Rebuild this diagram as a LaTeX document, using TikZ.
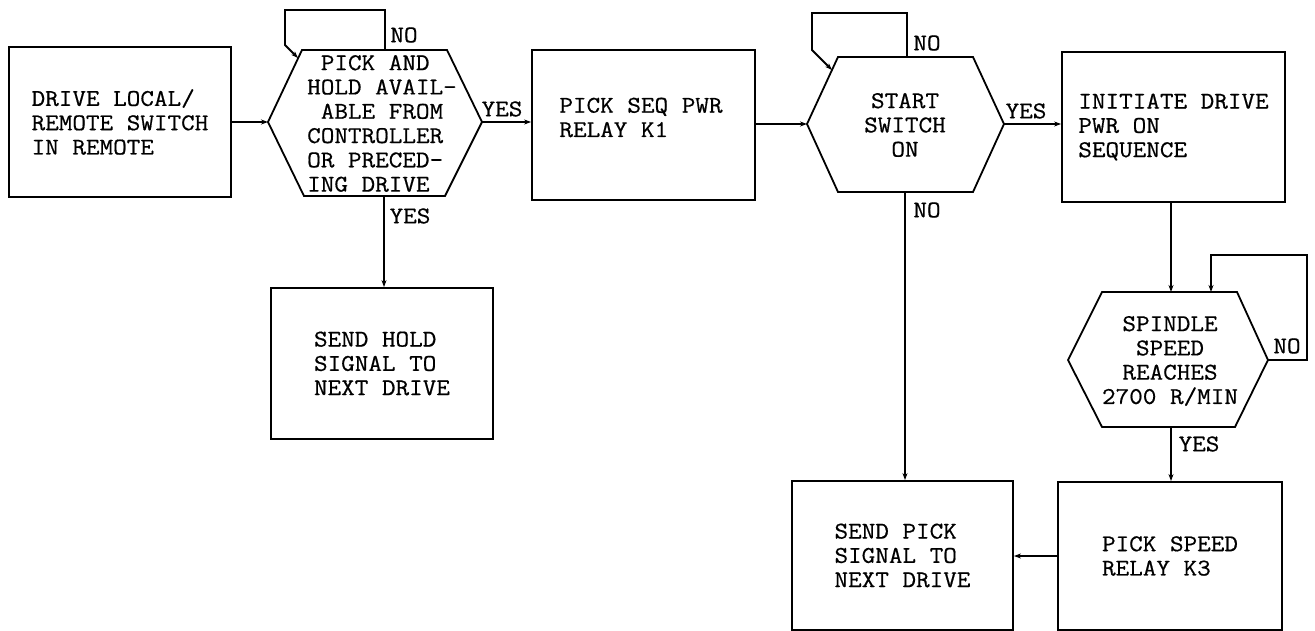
\documentclass[tikz,border=0pt]{standalone}
\usepackage{fontspec}
\newfontfamily\twfont[FakeStretch=1.1,FakeBold=0.6]{Latin Modern Mono}
\usetikzlibrary{arrows.meta}
\begin{document}
\begin{tikzpicture}[x=1pt,y=-1pt,
  every node/.style={font=\twfont\fontsize{24}{24.3}\selectfont, inner sep=0pt},
  box/.style={draw, line width=1.8pt, align=left, minimum width=222pt, minimum height=150pt},
  txt/.style={align=left},
  ctxt/.style={align=center},
  ln/.style={line width=1.8pt, line join=miter},
  arr/.style={line width=1.8pt, -{Stealth[length=7pt,width=5pt]}}]
\useasboundingbox (0,0) rectangle (1315,631);

% boxes
\node[box] (A) at (120,122) {DRIVE LOCAL/\\REMOTE SWITCH\\IN REMOTE};
\node[box, minimum width=223pt] (B) at (643.5,125) {};
\node[txt] (Bt) at (641,117.5) {PICK SEQ PWR\\RELAY K1};
\node[box, minimum height=151pt] (C) at (382,363.5) {SEND HOLD\\SIGNAL TO\\NEXT DRIVE};
\node[box, minimum width=221pt, minimum height=149pt] (D) at (902.5,555.5) {SEND PICK\\SIGNAL TO\\NEXT DRIVE};
\node[box, minimum width=223pt] (E) at (1173.5,127) {INITIATE DRIVE\\PWR ON\\SEQUENCE};
\node[box, minimum width=224pt, minimum height=148pt] (F) at (1170,556) {PICK SPEED\\RELAY K3};

% hexagon 1
\coordinate (h1L) at (268,122);
\coordinate (h1TL) at (302,50);
\coordinate (h1TR) at (447,50);
\coordinate (h1R) at (482,122);
\coordinate (h1BR) at (445,196);
\coordinate (h1BL) at (304,196);
\coordinate (h1T) at (385,50);
\coordinate (h1B) at (384,196);
\coordinate (h1e) at (298,58);
\draw[ln] (h1L) -- (h1TL) -- (h1TR) -- (h1R) -- (h1BR) -- (h1BL) -- cycle;
\node[txt] (H1) at (382,123.5) {\hphantom{P}PICK AND\\HOLD AVAIL-\\\hphantom{P}ABLE FROM\\CONTROLLER\\OR PRECED-\\ING DRIVE};

% hexagon 2
\coordinate (h2L) at (807,124);
\coordinate (h2TL) at (838,57);
\coordinate (h2TR) at (973,57);
\coordinate (h2R) at (1004,124);
\coordinate (h2BR) at (973,192);
\coordinate (h2BL) at (838,192);
\coordinate (h2T) at (907,57);
\coordinate (h2B) at (905,192);
\coordinate (h2e) at (832,70);
\draw[ln] (h2L) -- (h2TL) -- (h2TR) -- (h2R) -- (h2BR) -- (h2BL) -- cycle;
\node[ctxt] (H2) at (905,125) {START\\SWITCH\\ON};

% hexagon 3
\coordinate (h3L) at (1068,360);
\coordinate (h3TL) at (1102,292);
\coordinate (h3TR) at (1237,292);
\coordinate (h3R) at (1268,360);
\coordinate (h3BR) at (1235,427);
\coordinate (h3BL) at (1102,427);
\coordinate (h3T) at (1171,292);
\coordinate (h3Tb) at (1211,292);
\coordinate (h3B) at (1171,427);
\draw[ln] (h3L) -- (h3TL) -- (h3TR) -- (h3R) -- (h3BR) -- (h3BL) -- cycle;
\node[ctxt] (H3) at (1170,361) {SPINDLE\\SPEED\\REACHES\\2700 R/MIN};

% connectors
\draw[arr] (A.east |- h1L) -- (h1L);
\draw[arr] (h1R) -- (h1R -| B.west);
\draw[arr] (h1T) -- ++(0,-40) -- ++(-100,0) -- ++(0,35) -- (h1e);
\draw[arr] (h1B) -- (h1B |- C.north);
\draw[arr] (B.east |- h2L) -- (h2L);
\draw[arr] (h2R) -- (h2R -| E.west);
\draw[arr] (h2T) -- ++(0,-44) -- ++(-95,0) -- ++(0,37) -- (h2e);
\draw[arr] (h2B) -- (h2B |- D.north);
\draw[arr] (h3T |- E.south) -- (h3T);
\draw[arr] (h3R) -- ++(39,0) -- ++(0,-105) -- ++(-96,0) -- (h3Tb);
\draw[arr] (h3B) -- (h3B |- F.north);
\draw[arr] (F.west |- 0,556) -- (D.east |- 0,556);

% labels
\node (l1) at (502,109) {YES};
\node (l2) at (404,35) {NO};
\node (l3) at (410,216) {YES};
\node (l4) at (1026,111) {YES};
\node (l5) at (927,43) {NO};
\node (l6) at (927,210) {NO};
\node (l7) at (1287,346) {NO};
\node (l8) at (1199,444) {YES};
\end{tikzpicture}
\end{document}
